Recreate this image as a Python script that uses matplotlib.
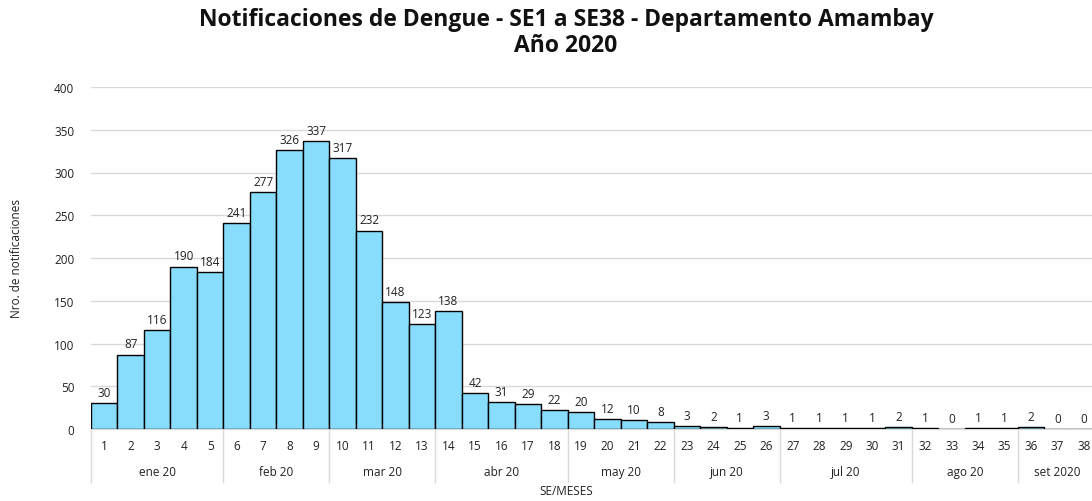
import matplotlib
matplotlib.use("Agg")
import matplotlib.pyplot as plt
import matplotlib.transforms as mtransforms

weeks = list(range(1, 39))
values = [30, 87, 116, 190, 184, 241, 277, 326, 337, 317, 232, 148, 123, 138,
          42, 31, 29, 22, 20, 12, 10, 8, 3, 2, 1, 3, 1, 1, 1, 1, 2, 1, 0, 1, 1, 2, 0, 0]
months = ["ene 20", "feb 20", "mar 20", "abr 20", "may 20", "jun 20", "jul 20", "ago 20", "set 2020"]
month_weeks = [(1, 5), (6, 9), (10, 13), (14, 18), (19, 22), (23, 26), (27, 31), (32, 35), (36, 38)]

plt.rcParams['font.family'] = ['Open Sans', 'DejaVu Sans']

fig = plt.figure(figsize=(10.92, 5.02), dpi=100)
ax = fig.add_axes([91/1092, 1 - 430/502, 1 - 91/1092, (430 - 88)/502])

ax.bar(weeks, values, width=1.0, color='#87DDFB', edgecolor='black', linewidth=1.0, zorder=3)
for w, v in zip(weeks, values):
    ax.annotate(str(v), (w, v), xytext=(0, 3), textcoords='offset points',
                ha='center', va='bottom', fontsize=8.5, color='#222222')

ax.set_ylim(0, 400)
ax.set_xlim(0.5, 38.3)
ax.set_yticks(range(0, 401, 50))
ax.yaxis.grid(True, color='#d9d9d9', linewidth=1.0, zorder=0)
ax.set_axisbelow(True)
for s in ['top', 'right', 'left']:
    ax.spines[s].set_visible(False)
ax.spines['bottom'].set_color('#d9d9d9')
ax.tick_params(axis='y', length=0, labelsize=8.5, pad=12, labelcolor='#222222')
ax.set_xticks(weeks)
ax.set_xticklabels([str(w) for w in weeks])
ax.tick_params(axis='x', length=0, labelsize=8.5, pad=7, labelcolor='#222222')

trans = mtransforms.blended_transform_factory(ax.transData, ax.transAxes)
sep_bottom = -53/342
for (a, b), m in zip(month_weeks, months):
    ax.text((a + b) / 2, -43/342, m, transform=trans, ha='center', va='center',
            fontsize=8.5, color='#222222', clip_on=False)
    ax.plot([a - 0.5, a - 0.5], [0, sep_bottom], transform=trans, color='#d9d9d9',
            linewidth=1.0, clip_on=False)

fig.text(566/1092, 1 - 492/502, "SE/MESES", ha='center', va='center', fontsize=8.5, color='#222222')
fig.text(17/1092, 1 - 258/502, "Nro. de notificaciones", rotation=90, ha='center', va='center',
         fontsize=8.5, color='#222222')
fig.text(566/1092, 1 - 33/502, "Notificaciones de Dengue - SE1 a SE38 - Departamento Amambay\nAño 2020",
         ha='center', va='center', fontsize=16.5, fontweight='bold', color='#111111', linespacing=1.15)

fig.savefig("out.png", dpi=100)
